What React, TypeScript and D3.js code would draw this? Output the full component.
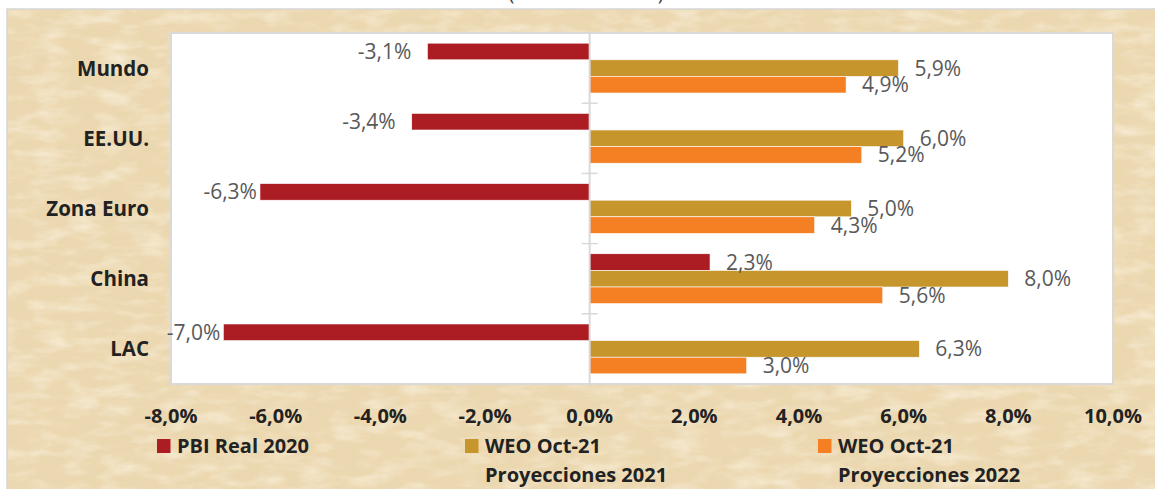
import React from "react";
import * as d3 from "d3";

// chart values
const categories = ["Mundo", "EE.UU.", "Zona Euro", "China", "LAC"];
const seriesKeys = ["pbi2020", "weo2021", "weo2022"];
const pbiReal2020 = [-3.1, -3.4, -6.3, 2.3, -7.0];
const weoProy2021 = [5.9, 6.0, 5.0, 8.0, 6.3];
const weoProy2022 = [4.9, 5.2, 4.3, 5.6, 3.0];
const xTicks = [-8, -6, -4, -2, 0, 2, 4, 6, 8, 10];
const legendLines = [
  ["PBI Real 2020"],
  ["WEO Oct-21", "Proyecciones 2021"],
  ["WEO Oct-21", "Proyecciones 2022"],
];
const colors = ["#ab1c23", "#c6962d", "#f58024"];

const W = 1155;
const H = 489;
const plot = { left: 171, right: 1113, top: 33, bottom: 384 };
const FONT = "'Open Sans', 'Liberation Sans', sans-serif";

const fmt = (v: number) => v.toFixed(1).replace(".", ",") + "%";

const App = () => {
  const series = [pbiReal2020, weoProy2021, weoProy2022];

  const x = d3.scaleLinear().domain([-8, 10]).range([plot.left, plot.right]);
  const y = d3
    .scaleBand<string>()
    .domain(categories)
    .range([plot.top, plot.bottom])
    .paddingInner(0.29)
    .paddingOuter(0.145);
  const ySub = d3.scaleBand<string>().domain(seriesKeys).range([0, y.bandwidth()]);
  const step = y.step();

  const boundaries = d3.range(1, categories.length).map((i) => plot.top + i * step);

  return (
    <svg
      width={W}
      height={H}
      style={{ position: "absolute", left: 0, top: 0, background: "#fff" }}
      fontFamily={FONT}
    >
      <defs>
        <filter id="darkNoise" x="0" y="0" width="100%" height="100%">
          <feTurbulence type="fractalNoise" baseFrequency="0.025 0.06" numOctaves={4} seed={7} />
          <feColorMatrix
            type="matrix"
            values="0 0 0 0 0.80  0 0 0 0 0.66  0 0 0 0 0.43  1.8 0 0 0 -0.82"
          />
        </filter>
        <filter id="lightNoise" x="0" y="0" width="100%" height="100%">
          <feTurbulence type="fractalNoise" baseFrequency="0.03 0.08" numOctaves={3} seed={19} />
          <feColorMatrix
            type="matrix"
            values="0 0 0 0 0.99  0 0 0 0 0.95  0 0 0 0 0.85  0 1.8 0 0 -0.78"
          />
        </filter>
      </defs>

      {/* cut-off title */}
      <text x={586} y={0} textAnchor="middle" fontSize={20} fill="#404040">
        (Variación anual)
      </text>

      {/* parchment background */}
      <rect x={7} y={9} width={W} height={H} fill="#ecd8b0" stroke="#d6d6d6" strokeWidth={1.5} />
      <rect x={8} y={10} width={W} height={H} filter="url(#darkNoise)" opacity={0.5} />
      <rect x={8} y={10} width={W} height={H} filter="url(#lightNoise)" opacity={0.65} />

      {/* plot area */}
      <rect
        x={plot.left}
        y={plot.top}
        width={plot.right - plot.left}
        height={plot.bottom - plot.top}
        fill="#fff"
        stroke="#d9d9d9"
        strokeWidth={2}
      />

      {/* bars */}
      {categories.map((c, ci) =>
        series.map((vals, si) => {
          const v = vals[ci];
          const y0 = (y(c) as number) + (ySub(seriesKeys[si]) as number);
          return (
            <rect
              key={c + si}
              x={Math.min(x(0), x(v))}
              y={y0}
              width={Math.abs(x(v) - x(0))}
              height={ySub.bandwidth()}
              fill={colors[si]}
              stroke="#fff"
              strokeWidth={0.6}
            />
          );
        })
      )}

      {/* zero axis with category ticks */}
      <line x1={x(0)} x2={x(0)} y1={plot.top} y2={plot.bottom} stroke="#d9d9d9" strokeWidth={2} />
      {boundaries.map((b) => (
        <line key={b} x1={x(0) - 8} x2={x(0) + 8} y1={b} y2={b} stroke="#d9d9d9" strokeWidth={1.5} />
      ))}

      {/* data labels */}
      {categories.map((c, ci) =>
        series.map((vals, si) => {
          const v = vals[ci];
          const cy = (y(c) as number) + (ySub(seriesKeys[si]) as number) + ySub.bandwidth() / 2;
          const gap = v < -5 ? 3 : 16;
          return (
            <text
              key={"l" + c + si}
              x={v < 0 ? x(v) - gap : x(v) + gap}
              y={cy}
              dy="0.36em"
              textAnchor={v < 0 ? "end" : "start"}
              fontSize={21}
              fill="#595959"
            >
              {fmt(v)}
            </text>
          );
        })
      )}

      {/* category labels */}
      {categories.map((c) => (
        <text
          key={"c" + c}
          x={149}
          y={(y(c) as number) + y.bandwidth() / 2}
          dy="0.37em"
          textAnchor="end"
          fontSize={20.5}
          fontWeight="bold"
          fill="#222"
        >
          {c}
        </text>
      ))}

      {/* x tick labels */}
      {xTicks.map((t) => (
        <text
          key={"t" + t}
          x={x(t)}
          y={423}
          textAnchor="middle"
          fontSize={20}
          fontWeight="bold"
          fill="#222"
        >
          {fmt(t)}
        </text>
      ))}

      {/* legend */}
      {legendLines.map((lines, i) => {
        const lx = [157, 465, 818][i];
        return (
          <g key={"lg" + i} transform={`translate(${lx},0)`}>
            <rect x={0} y={439} width={13.5} height={14} fill={colors[i]} />
            {lines.map((t, j) => (
              <text
                key={t + j}
                x={20}
                y={453 + j * 28.5}
                fontSize={20}
                fontWeight="bold"
                fill="#222"
              >
                {t}
              </text>
            ))}
          </g>
        );
      })}
    </svg>
  );
};

export default App;
